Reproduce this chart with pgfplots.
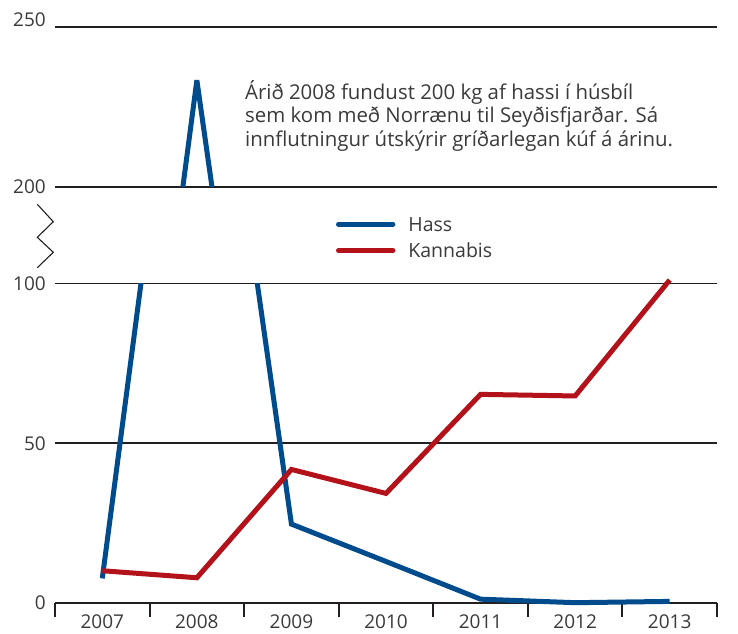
\documentclass[border=0pt]{standalone}
\usepackage{fontspec}
\setmainfont{Open Sans}
\usepackage{pgfplots}
\usepackage{pgfplotstable}
\pgfplotsset{compat=1.18}
\definecolor{hassblue}{HTML}{004B8C}
\definecolor{kanred}{HTML}{B3121B}
\definecolor{gridc}{HTML}{231F20}
\definecolor{txt}{HTML}{3A3A3A}

\pgfplotstableread{
idx hass kannabis
0 7.7 10.1
1 233.3 7.9
2 24.7 41.8
3 13.0 34.3
4 1.2 65.3
5 0.1 64.8
6 0.5 101.1
}\datatable

\pgfplotsset{
  base/.style={x=94.57pt, y=3.195pt, xmin=-0.5, xmax=6.5, anchor=south west,
    /pgf/number format/assume math mode=true,
    ticklabel style={font=\fontsize{19}{22}\selectfont, text=txt},
    major grid style={line width=1.8pt, gridc}},
  hassline/.style={color=hassblue, line width=5pt, line join=miter, miter limit=4, line cap=butt},
  kanline/.style={color=kanred, line width=5pt, line join=miter, miter limit=4, line cap=butt},
}

\begin{document}
\begin{tikzpicture}[x=1pt,y=1pt]
\path[use as bounding box] (0,0) rectangle (738,633);

% lower axis: grid, x axis, ticks
\begin{axis}[base, at={(55pt,30pt)}, ymin=0, ymax=100,
  axis x line=bottom, axis y line=left,
  axis line style={-, line width=1.8pt, gridc},
  y axis line style={draw=none},
  xtick={0,...,6}, xticklabels={2007,2008,2009,2010,2011,2012,2013},
  minor xtick={-0.5,0.5,...,6.5},
  tick align=outside, major tick length=0pt, minor tick length=14pt,
  minor tick style={line width=2pt, gridc},
  ytick={0,50,100}, ymajorgrids,
  xticklabel style={anchor=north, inner sep=0pt, yshift=-12pt},
  yticklabel style={anchor=east, inner sep=0pt, xshift=-9pt},
]
\end{axis}

% lower axis: Hass (clipped at 100)
\begin{axis}[base, at={(55pt,14.025pt)}, ymin=-5, ymax=100, hide axis]
\addplot[hassline] table[x=idx, y=hass]{\datatable};
\end{axis}

% lower axis: Kannabis
\begin{axis}[base, at={(55pt,30pt)}, ymin=0, ymax=100, hide axis, clip=false]
\addplot[kanline] table[x=idx, y=kannabis]{\datatable};
\end{axis}

% upper axis
\begin{axis}[base, at={(55pt,446.3pt)}, ymin=200, ymax=250,
  axis x line=none, axis y line=left, y axis line style={draw=none},
  xtick=\empty,
  ytick={200}, extra y ticks={250},
  extra y tick style={grid=major, yticklabel style={yshift=7pt}},
  ymajorgrids, major tick length=0pt,
  yticklabel style={anchor=east, inner sep=0pt, xshift=-9pt},
  legend style={at={(0.4242,0)}, anchor=north west, yshift=-30.3pt,
    draw=none, fill=none, inner sep=0pt, column sep=13pt, row sep=12.4pt,
    nodes={inner sep=0pt, text height=14pt, text depth=0pt,
      font=\fontsize{19.5}{22}\selectfont, text=txt}},
  legend cell align=left,
  legend image code/.code={\draw[#1, line cap=round] (0pt,0pt) -- (54.4pt,0pt);},
]
\addplot[hassline] table[x=idx, y=hass]{\datatable};
\addlegendentry{Hass}
\addlegendimage{kanline}
\addlegendentry{Kannabis}
\end{axis}

% axis break mark
\draw[gridc, line width=1.1pt] (37.3,428.7) -- (53.3,411.3) -- (37.3,395.7) -- (53.3,380.7) -- (37.3,365.3);

% annotation
\node[anchor=north west, inner sep=0pt, align=left, font=\fontsize{20.4}{23.8}\selectfont, text=txt]
  at (245,553) {Árið 2008 fundust 200 kg af hassi í húsbíl\\sem kom með Norrænu til Seyðisfjarðar. Sá\\innflutningur útskýrir gríðarlegan kúf á árinu.};
\end{tikzpicture}
\end{document}
